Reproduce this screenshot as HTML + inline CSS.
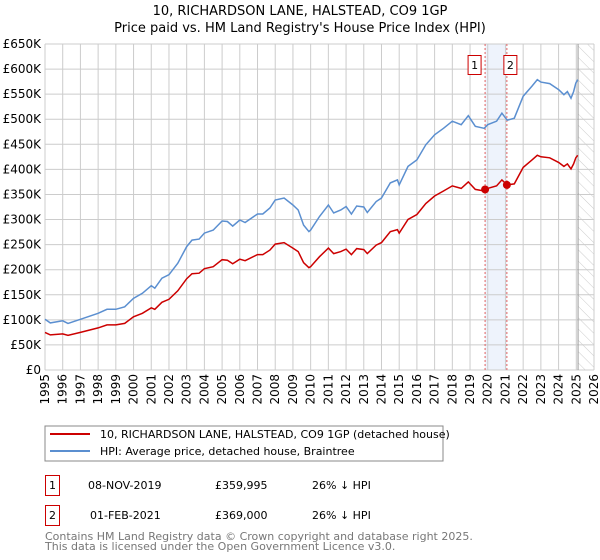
<!DOCTYPE html>
<html><head><meta charset="utf-8"><style>
body{margin:0;background:#fff;font-family:"DejaVu Sans","Liberation Sans",sans-serif;}
svg{display:block}
</style></head><body>
<svg id="c" width="600" height="560" xmlns="http://www.w3.org/2000/svg" font-family="DejaVu Sans, Liberation Sans, sans-serif">
<defs><pattern id="hatch" width="8" height="8" patternUnits="userSpaceOnUse" patternTransform="rotate(-45)"><line x1="0" y1="0" x2="0" y2="8" stroke="#ccc" stroke-width="1"/></pattern></defs>
<text x="300" y="15" text-anchor="middle" font-size="13">10, RICHARDSON LANE, HALSTEAD, CO9 1GP</text>
<text x="300" y="32" text-anchor="middle" font-size="13">Price paid vs. HM Land Registry's House Price Index (HPI)</text>
<g id="grid"></g><g id="marks"></g><g id="axes"></g>
<rect x="45" y="426" width="398" height="35" fill="#fff" stroke="#888"/>
<line x1="50" y1="434" x2="90" y2="434" stroke="#cc0000" stroke-width="2"/>
<text x="100" y="438" font-size="11">10, RICHARDSON LANE, HALSTEAD, CO9 1GP (detached house)</text>
<line x1="50" y1="451" x2="90" y2="451" stroke="#5b8fd0" stroke-width="2"/>
<text x="100" y="455" font-size="11">HPI: Average price, detached house, Braintree</text>
<g font-size="11">
<rect x="45.5" y="475.5" width="14" height="20" fill="#fff" stroke="#cc0000"/>
<text x="52.5" y="489" text-anchor="middle">1</text>
<text x="88" y="489">08-NOV-2019</text>
<text x="215" y="489">£359,995</text>
<text x="312" y="489">26% ↓ HPI</text>
<rect x="45.5" y="505.5" width="14" height="20" fill="#fff" stroke="#cc0000"/>
<text x="52.5" y="519" text-anchor="middle">2</text>
<text x="90" y="519">01-FEB-2021</text>
<text x="215" y="519">£369,000</text>
<text x="312" y="519">26% ↓ HPI</text>
</g>
<text x="45" y="540" font-size="11" fill="#777">Contains HM Land Registry data © Crown copyright and database right 2025.</text>
<text x="45" y="550" font-size="11" fill="#777">This data is licensed under the Open Government Licence v3.0.</text>
</svg>
<script>
const years=[1995,1995.3,1996,1996.3,1997,1998,1998.5,1999,1999.5,2000,2000.5,2001,2001.2,2001.6,2002,2002.5,2003,2003.3,2003.7,2004,2004.5,2005,2005.3,2005.6,2006,2006.3,2007,2007.3,2007.7,2008,2008.5,2009,2009.3,2009.6,2009.9,2010,2010.5,2011,2011.3,2011.7,2012,2012.3,2012.6,2013,2013.2,2013.7,2014,2014.5,2014.9,2015,2015.5,2016,2016.5,2017,2017.5,2018,2018.5,2018.9,2019.3,2019.8,2020,2020.5,2020.8,2021.1,2021.5,2022,2022.5,2022.8,2023,2023.5,2024,2024.3,2024.5,2024.7,2024.85,2024.97,2025.08];
const hpi=[101,94,98,93,101,113,121,121,126,143,153,168,163,183,190,213,246,259,261,273,279,297,296,287,299,294,311,311,323,339,343,329,319,289,276,279,306,329,313,319,326,311,327,325,314,336,343,373,379,369,406,419,449,469,482,496,489,507,486,482,489,496,512,498,502,546,566,579,574,571,559,549,555,542,555,572,579];
const prop=[75,70,72,69,75,84,90,90,93,106,113,124,121,135,141,158,182,192,193,202,206,220,219,212,221,218,230,230,239,251,254,243,236,214,204,206,226,243,232,236,241,230,242,240,232,249,254,276,280,273,300,310,332,347,357,367,362,375,360,357,362,367,379,369,371,404,419,428,425,423,414,406,411,401,411,423,428];
const saleYears=[2019.85,2021.08];
const salePrices=[359.995,369];
const saleLabels=["1","2"];
const yTicks=[0,50,100,150,200,250,300,350,400,450,500,550,600,650];
const yTickLabels=["£0","£50K","£100K","£150K","£200K","£250K","£300K","£350K","£400K","£450K","£500K","£550K","£600K","£650K"];
const xTicks=[1995,1996,1997,1998,1999,2000,2001,2002,2003,2004,2005,2006,2007,2008,2009,2010,2011,2012,2013,2014,2015,2016,2017,2018,2019,2020,2021,2022,2023,2024,2025,2026];
const L=45,R=594,T=44,B=370;
const X=y=>L+(y-1995)*(R-L)/31;
const Y=v=>B-v*(B-T)/650;
const NS="http://www.w3.org/2000/svg";
function mk(parent,tag,attrs){const e=document.createElementNS(NS,tag);for(const k in attrs)e.setAttribute(k,attrs[k]);parent.appendChild(e);return e;}
const grid=document.getElementById('grid'),marks=document.getElementById('marks'),axes=document.getElementById('axes');
mk(grid,'rect',{x:L,y:T,width:R-L,height:B-T,fill:'#fff'});
let band=mk(grid,'rect',{x:X(saleYears[0]),y:T,width:X(saleYears[1])-X(saleYears[0]),height:B-T,fill:'#eef3fc'});


yTicks.forEach((v,i)=>{
 let g=mk(grid,'line',{x1:L,x2:R,y1:Y(v),y2:Y(v),stroke:'#ccc','stroke-width':1});
 
 
 let t=mk(axes,'text',{x:L-4,y:Y(v)+4,'text-anchor':'end','font-size':12});
 t.textContent=yTickLabels[i];
 
 
});
xTicks.forEach(yr=>{
 let g=mk(grid,'line',{x1:X(yr),x2:X(yr),y1:T,y2:B,stroke:'#ccc','stroke-width':1});
 
 
 let t=mk(axes,'text',{x:0,y:0,'text-anchor':'end','font-size':12,transform:`translate(${X(yr)+4},${B+4}) rotate(-90)`});
 t.textContent=yr;
 
 
});
let hx=X(2025.1);
let h=mk(grid,'rect',{x:hx,y:T,width:R-hx,height:B-T,fill:'url(#hatch)'});


let hl=mk(grid,'line',{x1:hx,x2:hx,y1:T,y2:B,stroke:'#999','stroke-width':1});


saleYears.forEach((sy,i)=>{
 let l=mk(marks,'line',{x1:X(sy),x2:X(sy),y1:T,y2:B,stroke:'#e06060','stroke-width':1,'stroke-dasharray':'2,2'});
 
 
});
const path=(arr)=>arr.map((v,i)=>(i?'L':'M')+X(years[i]).toFixed(1)+','+Y(v).toFixed(1)).join('');
let pb=mk(marks,'path',{d:path(hpi),fill:'none',stroke:'#5b8fd0','stroke-width':1.5});


let pr=mk(marks,'path',{d:path(prop),fill:'none',stroke:'#cc0000','stroke-width':1.5});


saleYears.forEach((sy,i)=>{
 let c=mk(marks,'circle',{cx:X(sy),cy:Y(salePrices[i]),r:4,fill:'#cc0000'});
 
 
 let bx=X(sy)+(i==0?-10:4);
 let r=mk(marks,'rect',{x:bx-7,y:55.5,width:13,height:19,fill:'#fff',stroke:'#cc0000'});
 
 
 let t=mk(marks,'text',{x:bx-0.5,y:69,'text-anchor':'middle','font-size':11});
 t.textContent=saleLabels[i];
 
 
});
</script>
</body></html>
